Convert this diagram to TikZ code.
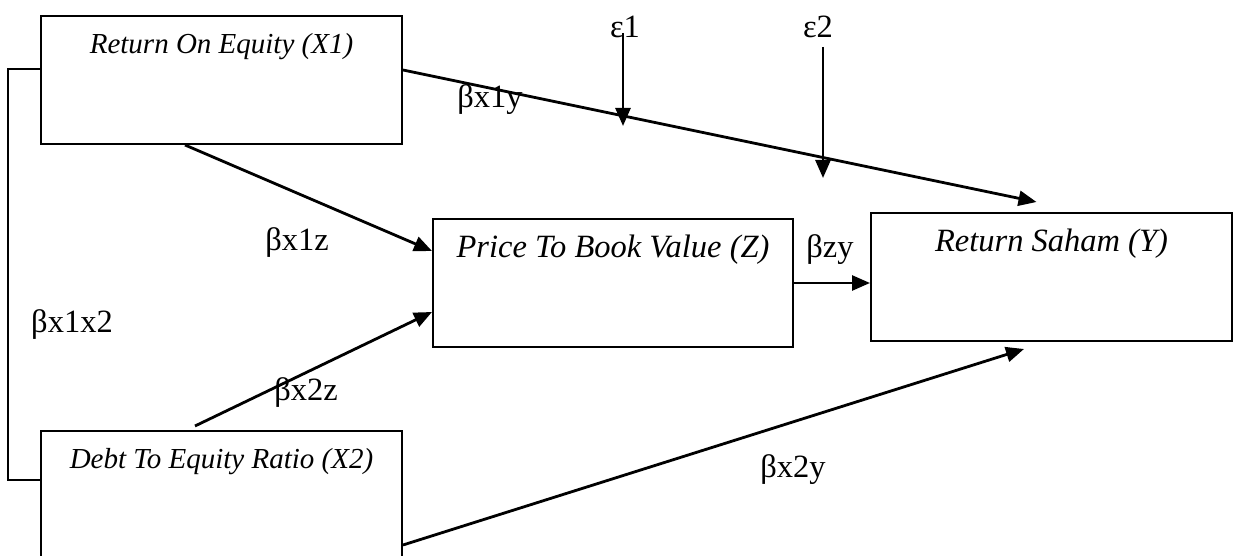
\documentclass[tikz,border=0pt]{standalone}
\usepackage{fontspec}
\setmainfont{Liberation Serif}
\usetikzlibrary{arrows.meta,positioning,calc}
\newcommand{\pathbox}[5]{%
  \node[varbox,minimum width=#4,minimum height=#5] (#1) at #2 {};
  \node[boxtext] at ([yshift=-32pt]#1.north) {#3};
}

\begin{document}
\begin{tikzpicture}[x=1pt,y=-1pt,
    varbox/.style={draw,line width=2pt,inner sep=0pt},
    boxtext/.style={font=\fontsize{29}{33}\selectfont\itshape},
    coef/.style={font=\fontsize{32.5}{36}\selectfont},
    arr/.style={line width=2.8pt,-{Triangle[length=18pt,width=15pt]}}]
        \useasboundingbox (0,0) rectangle (1235,556);
        \pathbox{X1}{(221.5,80)}{Return On Equity (X1)}{361pt}{128pt}
        \pathbox{X2}{(221.5,501)}{Debt To Equity Ratio (X2)}{361pt}{140pt}
        \pathbox{Z}{(613,283)}{\fontsize{32.5}{36}\selectfont Price To Book Value (Z)}{360pt}{128pt}
        \pathbox{Y}{(1051.5,277)}{\fontsize{32.5}{36}\selectfont Return Saham (Y)}{361pt}{128pt}
        % paths between variables
        \draw[arr] ([yshift=10pt]X1.east) -- ([xshift=-15pt,yshift=10pt]Y.north);
        \draw[arr] ([xshift=-36.5pt]X1.south) -- ([yshift=32pt]Z.west);
        \draw[arr] ([xshift=-26.5pt,yshift=4pt]X2.north) -- ([yshift=-29pt]Z.west);
        \draw[arr] ([yshift=-44pt]X2.east) -- ([xshift=-27.5pt,yshift=-7pt]Y.south);
        \draw[arr] (Z.east) -- (Z.east -| Y.west);
        \draw[line width=2pt] ([yshift=11pt]X1.west) -- ++(-32,0) |- ([yshift=21pt]X2.west);
        % error terms
        \node[coef] (e1) at (625,27) {ε1};
        \node[coef] (e2) at (818,27) {ε2};
        \coordinate (t1) at (623,126);
        \coordinate (t2) at (823,178);
        \draw[arr] ([xshift=-2pt,yshift=-6pt]e1.center) -- (t1);
        \draw[arr] ([xshift=5pt,yshift=-20pt]e2.center) -- (t2);
        % coefficients
        \node[coef] at (490,100) {βx1y};
        \node[coef] at (297,243) {βx1z};
        \node[coef] at (830,250) {βzy};
        \node[coef] at (72,325) {βx1x2};
        \node[coef] at (306,393) {βx2z};
        \node[coef] at (793,470) {βx2y};
      \end{tikzpicture}
\end{document}
